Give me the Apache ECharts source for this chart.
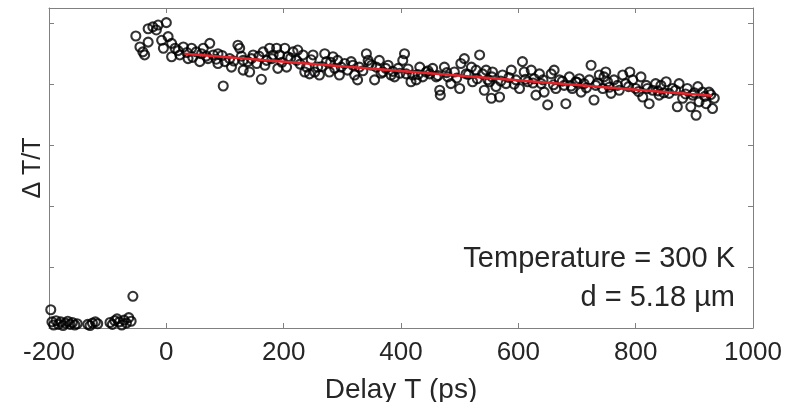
<!DOCTYPE html>
<html>
<head>
<meta charset="utf-8">
<script src="https://cdn.jsdelivr.net/npm/echarts@6/dist/echarts.min.js"></script>
<style>html,body{margin:0;padding:0;background:#fff}#c{width:786px;height:402px}</style>
</head>
<body>
<div id="c"></div>
<script>
// Delay T (ps), ΔT/T (arb.) — before arrival of pump
const preDelay = [-197,-195,-192,-188,-184,-180,-176,-172,-168,-164,-160,-156,-152,-134,-130,-126,-121,-117,-96,-92,-88,-84,-80,-76,-72,-68,-64,-60,-57];
const preSignal = [0.30,0.10,0.05,0.12,0.06,0.10,0.04,0.08,0.11,0.06,0.09,0.05,0.07,0.06,0.04,0.08,0.10,0.07,0.09,0.06,0.12,0.15,0.10,0.05,0.13,0.08,0.17,0.11,0.52];

// rise and decay region (clearly separated points)
const postDelay = [-52,-45,-40,-37,-31,-31,-23,-14,-17,0,-8,-5,3,9,9,15,23,29,37,43,51,57,63,74,71,80,88,88,97,100,108,111,122,125,131,131,
139,142,148,154,162,165,171,176,182,188,190,193,202,205,207,216,222,224,233,236,239,244,250,253,258,261,270,273,278,284,287,292,295,304,309,315,321,326,329,341,344,
346,355,358,363,369,378,383,389,395,403,406,409,417,420,426,432,437,443,449,454,460,466,467,474,480,485,491,500,502,508,511,520,522,528,534,539,542,548,
545,551,554,556,562,568,573,579,588,596,602,607,610,616,622,627,630,636,639,644,650,656,661,664,670,678,681,687,692,698,704,707,712,721,724,729,732,738,744,749,752,
746,758,763,769,778,783,790,795,800,809,812,818,823,829,834,840,843,852,857,863,871,874,880,888,894,897,903,906,908,914,920,925,931,934];
const postSignal = [4.79,4.61,4.53,4.48,4.69,4.91,4.94,4.97,4.89,5.01,4.72,4.59,4.78,4.67,4.45,4.59,4.48,4.61,4.42,4.59,4.53,4.37,4.59,4.67,4.42,4.48,4.50,4.34,3.97,4.37,4.42,4.28,4.64,4.59,4.39,4.23,
4.37,4.20,4.48,4.34,4.08,4.53,4.39,4.59,4.48,4.59,4.26,4.48,4.59,4.28,4.45,4.53,4.39,4.56,4.48,4.20,4.28,4.17,4.48,4.20,4.28,4.15,4.50,4.37,4.20,4.45,4.26,4.39,4.15,4.34,4.23,4.37,4.15,4.07,4.28,4.50,4.39,
4.34,4.07,4.28,4.39,4.20,4.31,4.15,4.12,4.26,4.39,4.50,4.17,4.04,4.15,4.07,4.28,4.12,4.20,4.17,4.26,4.12,3.90,3.82,4.28,4.12,4.01,4.20,3.93,4.34,4.42,4.17,4.28,4.04,4.23,4.48,4.17,3.90,4.07,
4.23,4.04,3.77,4.20,3.96,3.79,4.15,4.01,4.23,4.07,3.93,4.37,4.20,4.04,4.23,4.09,3.82,4.17,4.01,3.87,3.66,4.17,4.23,3.93,4.07,3.98,3.68,4.12,3.93,4.04,4.09,3.87,4.01,4.07,4.31,3.74,3.98,4.15,3.93,4.20,4.04,
4.12,3.85,4.07,3.98,4.15,4.01,4.20,4.07,3.93,4.12,3.79,3.98,3.68,3.90,4.01,3.82,3.98,4.04,3.85,3.93,3.63,4.01,3.77,3.93,3.63,3.82,3.49,3.96,3.71,3.87,3.68,3.87,3.60,3.77];

// points buried in the dense band around the fit (estimated)
const bandDelay = [20,35,45,60,68,85,95,115,128,145,158,168,180,197,212,228,247,265,280,298,318,335,350,366,374,386,398,412,429,446,463,478,495,515,530,555,570,584,593,612,625,642,660,675,690,700,716,735,755,772,788,805,820,838,848,868,885,900,918,928];
const bandSignal = [4.55,4.52,4.44,4.50,4.46,4.41,4.47,4.38,4.46,4.42,4.46,4.31,4.42,4.36,4.43,4.33,4.40,4.29,4.36,4.28,4.31,4.22,4.31,4.18,4.26,4.21,4.18,4.25,4.16,4.22,4.14,4.19,4.10,4.16,4.09,4.12,4.05,4.11,4.00,4.08,4.02,4.07,3.99,4.05,3.97,4.03,3.94,4.02,3.95,3.90,3.96,3.88,3.93,3.89,3.86,3.90,3.84,3.86,3.80,3.83];

// linear fit
const fitDelay = [31, 930];
const fitSignal = [4.50, 3.81];

const xTicks = [-200, 0, 200, 400, 600, 800, 1000];

const pts = [];
preDelay.forEach((t, i) => pts.push([t, preSignal[i]]));
postDelay.forEach((t, i) => pts.push([t, postSignal[i]]));
bandDelay.forEach((t, i) => pts.push([t, bandSignal[i]]));
const fit = fitDelay.map((t, i) => [t, fitSignal[i]]);

const FONT = 'Liberation Sans';
const axisColor = '#808080';
const chart = echarts.init(document.getElementById('c'), null, {renderer: 'canvas'});
const baseX = {
  type: 'value', min: xTicks[0], max: xTicks[xTicks.length - 1], interval: 200,
  axisLine: {show: true, onZero: false, lineStyle: {color: axisColor, width: 1}},
  axisTick: {show: true, inside: true, length: 5, lineStyle: {color: axisColor}},
  splitLine: {show: false}
};
const baseY = {
  type: 'value', min: 0, max: 5.25, interval: 1,
  axisLine: {show: true, onZero: false, lineStyle: {color: axisColor, width: 1}},
  axisTick: {show: true, inside: true, length: 5, lineStyle: {color: axisColor}},
  axisLabel: {show: false},
  splitLine: {show: false}
};
chart.setOption({
  animation: false,
  backgroundColor: '#fff',
  grid: {left: 49, right: 33, top: 8, bottom: 74, containLabel: false, outerBoundsMode: 'none'},
  xAxis: [
    Object.assign({}, baseX, {
      position: 'bottom',
      name: 'Delay T (ps)', nameLocation: 'middle', nameGap: 48,
      nameTextStyle: {fontFamily: FONT, fontSize: 28, color: '#262626'},
      axisLabel: {show: true, margin: 12, fontFamily: FONT, fontSize: 26, color: '#262626',
        formatter: v => String(v)}
    }),
    Object.assign({}, baseX, {position: 'top', axisLabel: {show: false}})
  ],
  yAxis: [
    Object.assign({}, baseY, {
      position: 'left',
      name: 'Δ T/T', nameLocation: 'middle', nameGap: 3,
      nameTextStyle: {fontFamily: FONT, fontSize: 25, color: '#262626'}
    }),
    Object.assign({}, baseY, {position: 'right'})
  ],
  graphic: [
    {type: 'text', right: 51, top: 244, style: {text: 'Temperature = 300 K', font: '29px "Liberation Sans"', fill: '#262626', textAlign: 'right'}},
    {type: 'text', right: 51, top: 283, style: {text: 'd = 5.18 µm', font: '29px "Liberation Sans"', fill: '#262626', textAlign: 'right'}}
  ],
  series: [
    {
      type: 'scatter', data: pts, symbol: 'circle', symbolSize: 9,
      itemStyle: {color: 'rgba(0,0,0,0)', borderColor: '#000', borderWidth: 2.1},
      z: 2
    },
    {
      type: 'line', data: fit, showSymbol: false, symbol: 'none',
      lineStyle: {color: '#e8232a', width: 2.5}, z: 3
    }
  ]
});
</script>
</body>
</html>
